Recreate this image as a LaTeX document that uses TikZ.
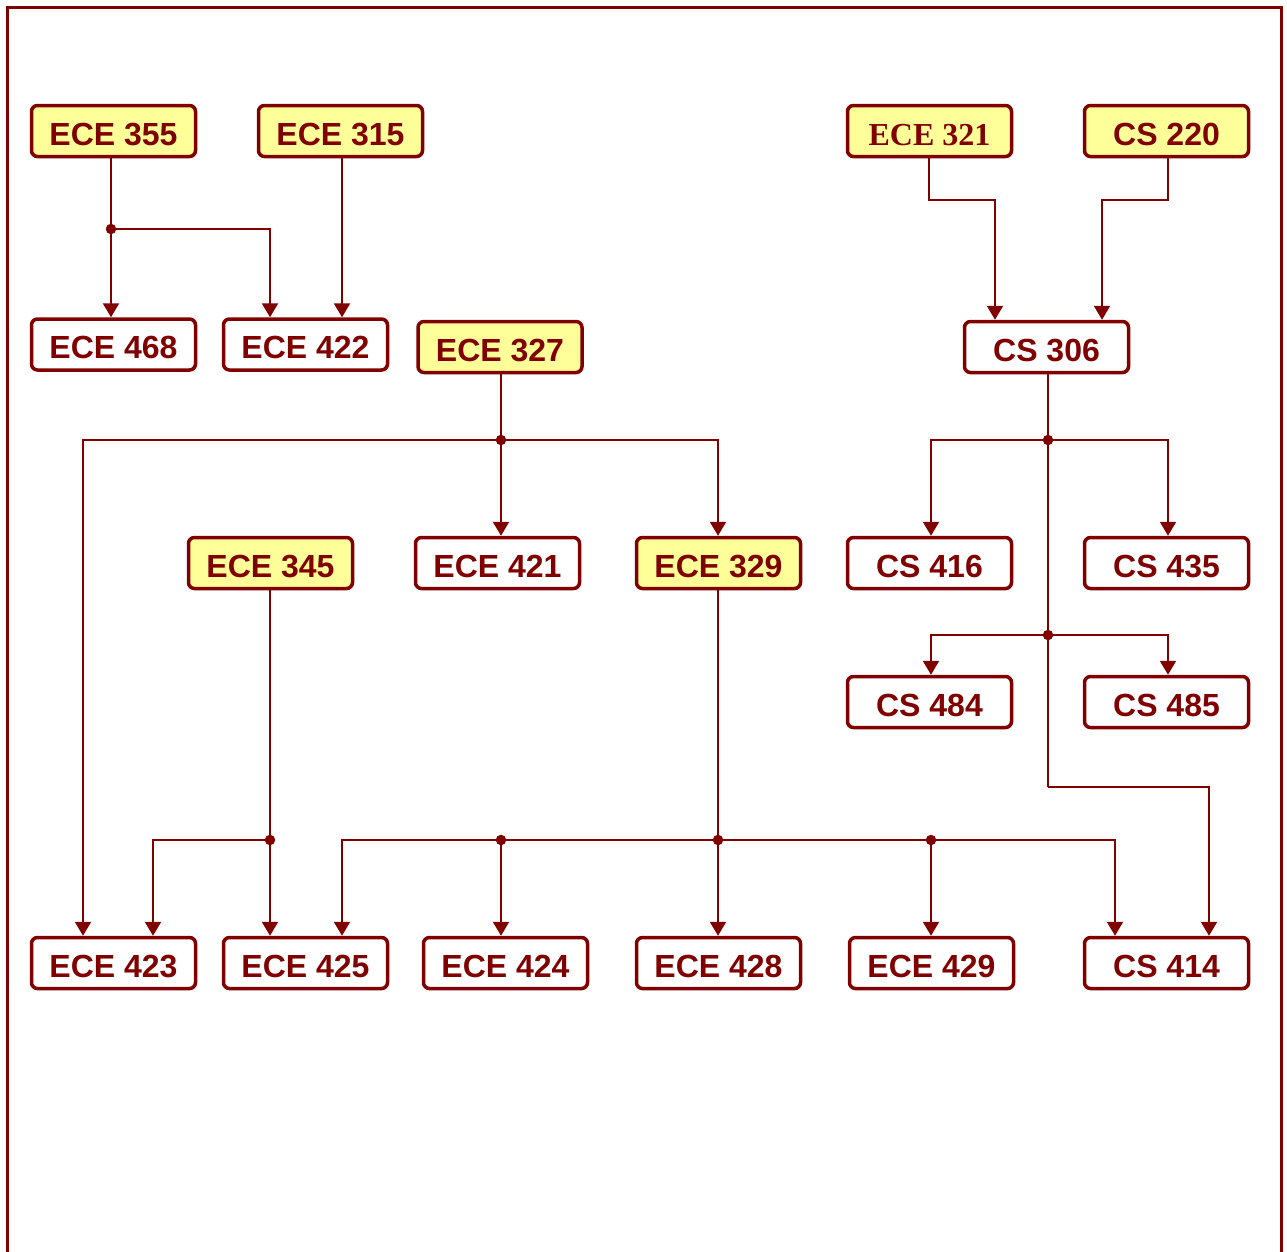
\documentclass[tikz,border=0pt]{standalone}
\usepackage{fontspec}
\setmainfont{Liberation Sans}
\newfontfamily\serifb{Liberation Serif}
\usetikzlibrary{arrows.meta,calc}
\definecolor{dred}{HTML}{800000}
\definecolor{pyel}{HTML}{FFFF99}
\begin{document}
\begin{tikzpicture}[x=1pt,y=-1pt,
 course/.style={draw=dred, line width=3.5pt, rounded corners=6pt, minimum width=164pt, minimum height=51pt, inner sep=0pt, text height=28pt, text depth=0pt, text=dred, font=\fontsize{32}{36}\selectfont\bfseries, fill=white},
 core/.style={course, fill=pyel},
 conn/.style={draw=dred, line width=2.2pt},
 arr/.style={conn, -{Triangle[width=16pt,length=14pt]}},
 jdot/.style={circle, fill=dred, inner sep=0pt, minimum size=10.5pt}]
\useasboundingbox (0,0) rectangle (1287,1251);
\draw[dred, line width=3pt] (7,1270) -- (7,7) -- (1281,7) -- (1281,1270);

% nodes
\node[core] (e355) at (113.5,131) {ECE 355};
\node[core] (e315) at (340.5,131) {ECE 315};
\node[core] (e321) at (929.5,131) {\serifb\bfseries ECE 321};
\node[core] (s220) at (1166.5,131) {CS 220};
\node[course] (e468) at (113.5,344.5) {ECE 468};
\node[course] (e422) at (305.5,344.5) {ECE 422};
\node[core] (e327) at (500,347) {ECE 327};
\node[course] (s306) at (1046.5,347) {CS 306};
\node[core] (e345) at (270.5,563) {ECE 345};
\node[course] (e421) at (497.5,563) {ECE 421};
\node[core] (e329) at (718.5,563) {ECE 329};
\node[course] (s416) at (929.5,563) {CS 416};
\node[course] (s435) at (1166.5,563) {CS 435};
\node[course] (s484) at (929.5,702) {CS 484};
\node[course] (s485) at (1166.5,702) {CS 485};
\node[course] (e423) at (113.5,963) {ECE 423};
\node[course] (e425) at (305.5,963) {ECE 425};
\node[course] (e424) at (505.5,963) {ECE 424};
\node[course] (e428) at (718.5,963) {ECE 428};
\node[course] (e429) at (931.5,963) {ECE 429};
\node[course] (s414) at (1166.5,963) {CS 414};

% bend coordinates
\coordinate (j355) at (111,229);
\coordinate (k355) at (270,229);
\coordinate (x315) at (342,200);
\coordinate (b321) at (929,200);
\coordinate (c321) at (995,200);
\coordinate (b220) at (1168,200);
\coordinate (c220) at (1102,200);
\coordinate (j327) at (501,440);
\coordinate (l327) at (83,440);
\coordinate (r327) at (718,440);
\coordinate (j306a) at (1048,440);
\coordinate (l306a) at (931,440);
\coordinate (r306a) at (1168,440);
\coordinate (j306b) at (1048,635);
\coordinate (l306b) at (931,635);
\coordinate (r306b) at (1168,635);
\coordinate (b306) at (1048,787);
\coordinate (c306) at (1209,787);
\coordinate (j345) at (270,840);
\coordinate (l345) at (153,840);
\coordinate (j329) at (718,840);
\coordinate (a329) at (342,840);
\coordinate (b329) at (501,840);
\coordinate (c329) at (931,840);
\coordinate (d329) at (1115,840);

% connectors
\draw[conn] (e355.south -| j355) -- (j355);
\draw[arr] (j355) -- (e468.north -| j355);
\draw[arr] (j355) -- (k355) -- (e422.north -| k355);
\draw[arr] (e315.south -| x315) -- (e422.north -| x315);
\draw[arr] (e321.south -| b321) -- (b321) -- (c321) -- (s306.north -| c321);
\draw[arr] (s220.south -| b220) -- (b220) -- (c220) -- (s306.north -| c220);

\draw[conn] (e327.south -| j327) -- (j327);
\draw[arr] (j327) -- (e421.north -| j327);
\draw[arr] (j327) -- (l327) -- (e423.north -| l327);
\draw[arr] (j327) -- (r327) -- (e329.north -| r327);

\draw[conn] (s306.south -| j306a) -- (j306a) -- (j306b) -- (b306);
\draw[arr] (j306a) -- (l306a) -- (s416.north -| l306a);
\draw[arr] (j306a) -- (r306a) -- (s435.north -| r306a);
\draw[arr] (j306b) -- (l306b) -- (s484.north -| l306b);
\draw[arr] (j306b) -- (r306b) -- (s485.north -| r306b);
\draw[arr] (b306) -- (c306) -- (s414.north -| c306);

\draw[arr] (e345.south -| j345) -- (e425.north -| j345);
\draw[arr] (j345) -- (l345) -- (e423.north -| l345);

\draw[arr] (e329.south -| j329) -- (e428.north -| j329);
\draw[arr] (j329) -- (a329) -- (e425.north -| a329);
\draw[arr] (b329) -- (e424.north -| b329);
\draw[arr] (c329) -- (e429.north -| c329);
\draw[arr] (j329) -- (d329) -- (s414.north -| d329);

% junction dots
\node[jdot] (d1) at (j355) {};
\node[jdot] (d2) at (j327) {};
\node[jdot] (d3) at (j306a) {};
\node[jdot] (d4) at (j306b) {};
\node[jdot] (d5) at (j345) {};
\node[jdot] (d6) at (j329) {};
\node[jdot] (d7) at (b329) {};
\node[jdot] (d8) at (c329) {};
\end{tikzpicture}
\end{document}
